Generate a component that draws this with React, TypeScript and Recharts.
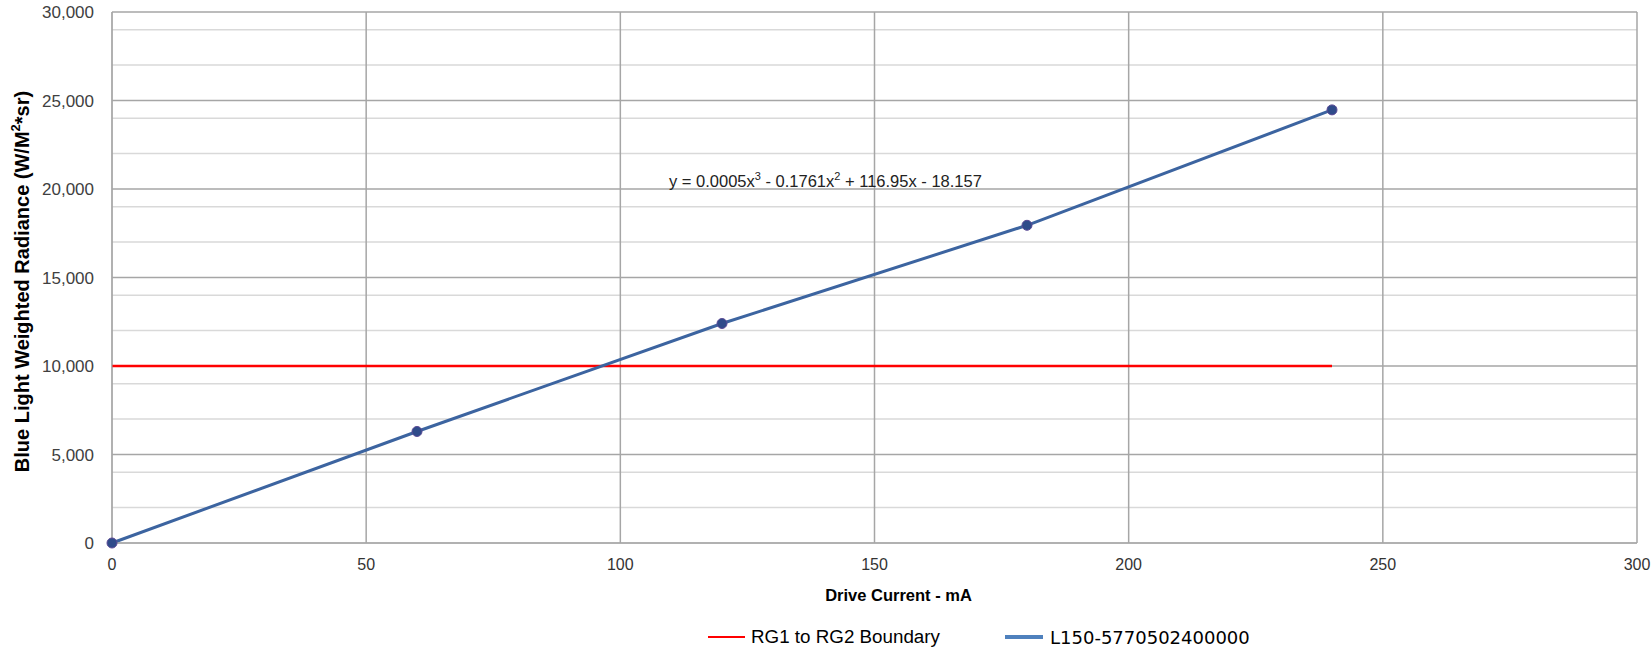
import { ComposedChart, Line, XAxis, YAxis, CartesianGrid } from 'recharts';

// drive current (mA) and measured blue light weighted radiance
const currents = [0, 60, 120, 180, 240];
const radiance = [0, 6300, 12400, 17950, 24470];

// RG1/RG2 boundary line
const boundaryCurrents = [0, 240];
const boundaryValue = 10000;

const xTicks = [0, 50, 100, 150, 200, 250, 300];
const yTicks = [0, 5000, 10000, 15000, 20000, 25000, 30000];
const yMinor = [
  1000, 2000, 3000, 4000, 6000, 7000, 8000, 9000, 11000, 12000, 13000, 14000, 16000, 17000,
  18000, 19000, 21000, 22000, 23000, 24000, 26000, 27000, 28000, 29000,
];

const seriesNames = ['RG1 to RG2 Boundary', 'L150-5770502400000'];

const allX = Array.from(new Set([...currents, ...boundaryCurrents])).sort((a, b) => a - b);
const table = allX.map((x) => {
  const i = currents.indexOf(x);
  return {
    x,
    radiance: i >= 0 ? radiance[i] : null,
    boundary: boundaryCurrents.includes(x) ? boundaryValue : null,
  };
});

const font = '"Liberation Sans", Arial, sans-serif';

const YTitle = (props: any) => {
  const { viewBox } = props;
  const cx = viewBox.x + 10;
  const cy = viewBox.y + viewBox.height / 2 + 4;
  return (
    <text
      x={cx}
      y={cy}
      transform={`rotate(-90 ${cx} ${cy})`}
      textAnchor="middle"
      dominantBaseline="central"
      fontFamily={font}
      fontWeight="bold"
      fontSize={20}
      fill="#000"
    >
      Blue Light Weighted Radiance (W/M
      <tspan dy={-7} fontSize={13}>2</tspan>
      <tspan dy={7}>*sr)</tspan>
    </text>
  );
};

const XTitle = (props: any) => {
  const { viewBox } = props;
  return (
    <text
      x={viewBox.x + viewBox.width / 2 + 24}
      y={viewBox.y + 52}
      textAnchor="middle"
      dominantBaseline="central"
      fontFamily={font}
      fontWeight="bold"
      fontSize={16.5}
      fill="#000"
    >
      Drive Current - mA
    </text>
  );
};

export default function App() {
  return (
    <div style={{ position: 'relative', width: 1651, height: 650, background: '#fff' }}>
      <style>{'body{margin:0;overflow:hidden}'}</style>
      <ComposedChart
        width={1651}
        height={650}
        data={table}
        margin={{ top: 12, right: 14, left: 12, bottom: 47 }}
      >
        <CartesianGrid
          horizontalValues={yMinor}
          vertical={false}
          stroke="#d9d9d9"
          strokeWidth={1.5}
        />
        <CartesianGrid horizontalValues={yTicks} verticalValues={xTicks} stroke="#a6a6a6" strokeWidth={1.5} />
        <XAxis
          dataKey="x"
          type="number"
          domain={[0, 300]}
          ticks={xTicks}
          tickLine={false}
          tickSize={6}
          tickMargin={10}
          stroke="#a6a6a6"
          tick={{ fill: '#333', fontFamily: font, fontSize: 16 }}
          height={60}
          label={<XTitle />}
        />
        <YAxis
          type="number"
          domain={[0, 30000]}
          ticks={yTicks}
          tickLine={false}
          tickSize={6}
          tickMargin={12}
          stroke="#a6a6a6"
          width={100}
          tickFormatter={(v: number) => v.toLocaleString('en-US')}
          tick={{ fill: '#404040', fontFamily: font, fontSize: 17 }}
          label={<YTitle />}
        />
        <Line
          dataKey="boundary"
          name={seriesNames[0]}
          stroke="#ff0000"
          strokeWidth={2.5}
          dot={false}
          connectNulls
          isAnimationActive={false}
        />
        <Line
          dataKey="radiance"
          name={seriesNames[1]}
          stroke="#3c64a0"
          strokeWidth={3}
          dot={{ r: 5, fill: '#2f4b8a', stroke: '#5b4a96', strokeWidth: 1 }}
          connectNulls
          isAnimationActive={false}
        />
      </ComposedChart>

      <div
        style={{
          position: 'absolute',
          left: 669,
          top: 170,
          fontFamily: font,
          fontSize: 16.5,
          color: '#222',
          whiteSpace: 'nowrap',
        }}
      >
        y = 0.0005x<sup style={{ fontSize: 11 }}>3</sup> - 0.1761x<sup style={{ fontSize: 11 }}>2</sup> + 116.95x - 18.157
      </div>

      <div
        style={{
          position: 'absolute',
          top: 626,
          left: 708,
          display: 'flex',
          alignItems: 'center',
          fontFamily: font,
          fontSize: 18.8,
          color: '#000',
          whiteSpace: 'nowrap',
        }}
      >
        <span style={{ display: 'inline-block', width: 37, height: 2.5, background: '#ff0000', marginRight: 6 }} />
        <span style={{ width: 254 }}>{seriesNames[0]}</span>
        <span style={{ display: 'inline-block', width: 38, height: 4, background: '#4f81bd', marginRight: 7 }} />
        <span style={{ fontFamily: '"DejaVu Sans", sans-serif', fontSize: 18 }}>{seriesNames[1]}</span>
      </div>
    </div>
  );
}
